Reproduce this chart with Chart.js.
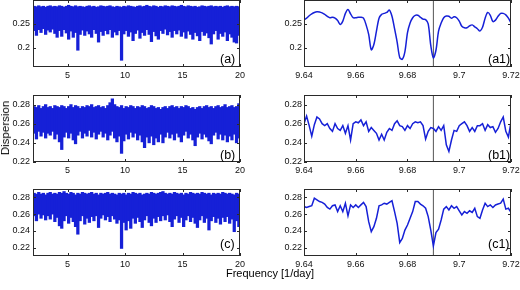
<!DOCTYPE html>
<html>
<head>
<meta charset="utf-8">
<script src="https://cdn.jsdelivr.net/npm/chart.js@4.4.0/dist/chart.umd.min.js"></script>
<style>
  body { margin: 0; width: 520px; height: 290px; overflow: hidden; background: #fff; position: relative;
         font-family: "Liberation Sans", Arial, sans-serif; }
  canvas { position: absolute; }
  .lbl { position: absolute; color: #000; white-space: nowrap; transform: translate(-50%, -50%); }
</style>
</head>
<body>
<canvas id="pa" width="250" height="97" style="left:0;top:-10px"></canvas>
<canvas id="pa1" width="270" height="97" style="left:262px;top:-10px"></canvas>
<canvas id="pb" width="250" height="97" style="left:0;top:85px"></canvas>
<canvas id="pb1" width="270" height="97" style="left:262px;top:85px"></canvas>
<canvas id="pc" width="250" height="97" style="left:0;top:179px"></canvas>
<canvas id="pc1" width="270" height="97" style="left:262px;top:179px"></canvas>
<div class="lbl" style="left:5px;top:128px;font-size:11.5px;transform:translate(-50%,-50%) rotate(-90deg)">Dispersion</div>
<div class="lbl" style="left:270px;top:273px;font-size:11px">Frequency [1/day]</div>
<script>
// whole range 2..20 1/day: lower and upper edge of the dense band
var wideFreq = [2.1,2.3,2.5,2.7,2.9,3.1,3.3,3.5,3.7,3.9,
  4.1,4.3,4.5,4.7,4.9,5.1,5.3,5.5,5.7,5.9,
  6.1,6.3,6.5,6.7,6.9,7.1,7.3,7.5,7.7,7.9,
  8.1,8.3,8.5,8.7,8.9,9.1,9.3,9.5,9.7,9.9,
  10.1,10.3,10.5,10.7,10.9,11.1,11.3,11.5,11.7,11.9,
  12.1,12.3,12.5,12.7,12.9,13.1,13.3,13.5,13.7,13.9,
  14.1,14.3,14.5,14.7,14.9,15.1,15.3,15.5,15.7,15.9,
  16.1,16.3,16.5,16.7,16.9,17.1,17.3,17.5,17.7,17.9,
  18.1,18.3,18.5,18.7,18.9,19.1,19.3,19.5,19.7,19.9];

var loA = [0.236,0.226,0.238,0.232,0.240,0.228,0.237,0.233,0.239,0.230,
  0.222,0.236,0.224,0.238,0.231,0.218,0.235,0.222,0.232,0.195,
  0.228,0.237,0.226,0.235,0.229,0.222,0.238,0.230,0.212,0.234,
  0.226,0.236,0.229,0.238,0.222,0.233,0.227,0.236,0.174,0.229,
  0.236,0.224,0.233,0.215,0.230,0.237,0.220,0.232,0.226,0.238,
  0.228,0.213,0.234,0.225,0.218,0.236,0.230,0.239,0.227,0.234,
  0.222,0.236,0.229,0.237,0.224,0.233,0.220,0.235,0.228,0.218,
  0.232,0.225,0.215,0.234,0.226,0.231,0.221,0.208,0.229,0.236,
  0.218,0.230,0.224,0.233,0.215,0.229,0.222,0.212,0.210,0.226];
var hiA = [0.287,0.286,0.288,0.286,0.287,0.285,0.287,0.288,0.286,0.287,
  0.286,0.288,0.287,0.285,0.287,0.289,0.287,0.286,0.288,0.286,
  0.287,0.286,0.285,0.287,0.288,0.286,0.287,0.285,0.286,0.288,
  0.287,0.286,0.287,0.288,0.286,0.285,0.287,0.286,0.285,0.287,
  0.286,0.288,0.287,0.286,0.285,0.287,0.288,0.286,0.287,0.289,
  0.287,0.286,0.288,0.287,0.285,0.287,0.286,0.288,0.287,0.286,
  0.288,0.287,0.286,0.287,0.289,0.287,0.286,0.288,0.287,0.286,
  0.287,0.285,0.286,0.288,0.287,0.286,0.287,0.288,0.286,0.287,
  0.286,0.287,0.285,0.287,0.288,0.286,0.287,0.286,0.287,0.286];

var loB = [0.250,0.244,0.252,0.247,0.251,0.245,0.250,0.248,0.252,0.244,
  0.249,0.241,0.233,0.246,0.251,0.245,0.250,0.243,0.239,0.248,
  0.252,0.245,0.250,0.247,0.253,0.246,0.251,0.244,0.249,0.252,
  0.246,0.250,0.243,0.248,0.252,0.245,0.241,0.247,0.229,0.242,
  0.249,0.244,0.251,0.246,0.250,0.243,0.248,0.241,0.235,0.246,
  0.240,0.247,0.238,0.245,0.241,0.249,0.240,0.246,0.251,0.245,
  0.249,0.243,0.250,0.246,0.241,0.248,0.252,0.245,0.249,0.243,
  0.237,0.246,0.250,0.244,0.249,0.246,0.242,0.239,0.248,0.251,
  0.244,0.249,0.243,0.248,0.241,0.247,0.243,0.249,0.240,0.245];
var hiB = [0.278,0.277,0.279,0.276,0.278,0.280,0.277,0.278,0.276,0.279,
  0.278,0.277,0.279,0.278,0.276,0.278,0.280,0.277,0.279,0.278,
  0.276,0.278,0.277,0.279,0.278,0.280,0.277,0.278,0.279,0.277,
  0.278,0.276,0.279,0.282,0.286,0.280,0.278,0.277,0.279,0.276,
  0.278,0.277,0.279,0.278,0.276,0.278,0.277,0.279,0.278,0.276,
  0.277,0.279,0.278,0.276,0.277,0.275,0.277,0.278,0.276,0.278,
  0.279,0.277,0.278,0.276,0.278,0.277,0.279,0.278,0.276,0.277,
  0.275,0.277,0.278,0.276,0.278,0.279,0.277,0.278,0.276,0.278,
  0.279,0.277,0.278,0.280,0.277,0.278,0.279,0.277,0.278,0.281];

var loC = [0.258,0.252,0.260,0.255,0.259,0.253,0.258,0.254,0.260,0.251,
  0.256,0.246,0.243,0.252,0.258,0.249,0.256,0.251,0.245,0.236,
  0.252,0.258,0.248,0.255,0.250,0.257,0.252,0.258,0.244,0.255,
  0.259,0.253,0.257,0.251,0.258,0.254,0.249,0.253,0.219,0.250,
  0.241,0.252,0.243,0.255,0.249,0.256,0.251,0.244,0.253,0.258,
  0.250,0.246,0.255,0.250,0.257,0.252,0.258,0.253,0.259,0.251,
  0.245,0.254,0.258,0.250,0.256,0.245,0.253,0.258,0.251,0.256,
  0.249,0.244,0.253,0.258,0.250,0.255,0.241,0.252,0.257,0.250,
  0.255,0.248,0.256,0.251,0.257,0.249,0.254,0.239,0.252,0.245];
var hiC = [0.285,0.284,0.286,0.284,0.285,0.283,0.285,0.286,0.284,0.285,
  0.284,0.286,0.285,0.287,0.285,0.284,0.286,0.285,0.283,0.285,
  0.284,0.286,0.285,0.284,0.285,0.286,0.284,0.285,0.283,0.285,
  0.284,0.285,0.286,0.284,0.285,0.284,0.283,0.285,0.284,0.285,
  0.283,0.285,0.284,0.286,0.285,0.284,0.285,0.283,0.284,0.285,
  0.284,0.286,0.285,0.284,0.285,0.286,0.287,0.285,0.284,0.285,
  0.284,0.286,0.285,0.284,0.285,0.283,0.285,0.284,0.286,0.285,
  0.284,0.285,0.284,0.286,0.285,0.284,0.285,0.283,0.285,0.284,
  0.285,0.284,0.286,0.285,0.284,0.285,0.284,0.283,0.285,0.284];

// zoom 9.64..9.72 1/day
var zoomFreq = [9.640,9.641,9.642,9.643,9.644,9.645,9.646,9.647,9.648,9.649,
  9.650,9.651,9.652,9.653,9.654,9.655,9.656,9.657,9.658,9.659,
  9.660,9.661,9.662,9.663,9.664,9.665,9.666,9.667,9.668,9.669,
  9.670,9.671,9.672,9.673,9.674,9.675,9.676,9.677,9.678,9.679,
  9.680,9.681,9.682,9.683,9.684,9.685,9.686,9.687,9.688,9.689,
  9.690,9.691,9.692,9.693,9.694,9.695,9.696,9.697,9.698,9.699,
  9.700,9.701,9.702,9.703,9.704,9.705,9.706,9.707,9.708,9.709,
  9.710,9.711,9.712,9.713,9.714,9.715,9.716,9.717,9.718,9.719,
  9.720];
var zoomA = [0.258,0.262,0.267,0.271,0.274,0.2755,0.275,0.273,0.270,0.266,
  0.263,0.264,0.262,0.257,0.249,0.256,0.272,0.280,0.271,0.263,
  0.263,0.264,0.264,0.262,0.248,0.228,0.196,0.207,0.235,0.262,
  0.270,0.272,0.274,0.279,0.266,0.240,0.212,0.180,0.176,0.192,
  0.232,0.252,0.263,0.268,0.268,0.264,0.260,0.259,0.250,0.205,
  0.179,0.195,0.235,0.252,0.263,0.2665,0.266,0.262,0.265,0.263,
  0.256,0.245,0.242,0.242,0.246,0.248,0.244,0.240,0.235,0.243,
  0.262,0.274,0.268,0.255,0.258,0.266,0.272,0.272,0.269,0.262,
  0.252];
var zoomB = [0.260,0.268,0.258,0.247,0.259,0.267,0.265,0.260,0.258,0.260,
  0.255,0.252,0.260,0.255,0.253,0.258,0.250,0.258,0.243,0.260,
  0.262,0.261,0.264,0.258,0.262,0.252,0.256,0.253,0.250,0.243,
  0.249,0.243,0.251,0.255,0.253,0.260,0.263,0.258,0.257,0.253,
  0.258,0.255,0.260,0.262,0.261,0.262,0.258,0.244,0.252,0.256,
  0.255,0.252,0.257,0.253,0.258,0.238,0.231,0.243,0.253,0.252,
  0.258,0.260,0.262,0.258,0.252,0.256,0.252,0.258,0.258,0.260,
  0.253,0.259,0.256,0.257,0.251,0.255,0.262,0.267,0.252,0.246,
  0.262];
var zoomC = [0.269,0.268,0.269,0.270,0.279,0.277,0.275,0.274,0.272,0.268,
  0.266,0.270,0.271,0.263,0.270,0.263,0.273,0.258,0.271,0.268,
  0.271,0.268,0.271,0.274,0.269,0.251,0.239,0.245,0.255,0.270,
  0.271,0.273,0.272,0.274,0.276,0.263,0.249,0.226,0.231,0.241,
  0.247,0.255,0.263,0.275,0.275,0.272,0.270,0.267,0.257,0.241,
  0.222,0.238,0.242,0.253,0.266,0.269,0.265,0.270,0.267,0.269,
  0.264,0.259,0.263,0.261,0.264,0.262,0.267,0.257,0.255,0.265,
  0.273,0.269,0.271,0.268,0.271,0.272,0.273,0.278,0.266,0.267,
  0.262];

var markFreq = 9.69;
var wideTicks = [5, 10, 15, 20];
var zoomTicks = [9.64, 9.66, 9.68, 9.70, 9.72];
var yTicksA = [0.2, 0.25];
var yTicksBC = [0.22, 0.24, 0.26, 0.28];

var BLUE = 'rgb(22,32,215)';
Chart.defaults.font.family = '"Liberation Sans", Arial, sans-serif';

function fmt(v) { return String(Number((+v).toFixed(2))); }

// box with inward ticks on all four sides plus the (a)..(c1) tag
var frame = {
  id: 'frame',
  afterDatasetsDraw: function(chart, args, opts) {
    var a = chart.chartArea, ctx = chart.ctx;
    var xs = chart.scales.x, ys = chart.scales.y;
    ctx.save();
    ctx.strokeStyle = '#2a2a2a';
    ctx.lineWidth = 1;
    ctx.beginPath();
    xs.ticks.forEach(function(t) {
      var p = Math.round(xs.getPixelForValue(t.value)) + 0.5;
      ctx.moveTo(p, a.bottom); ctx.lineTo(p, a.bottom - 3);
      ctx.moveTo(p, a.top); ctx.lineTo(p, a.top + 3);
    });
    ys.ticks.forEach(function(t) {
      var p = Math.round(ys.getPixelForValue(t.value)) + 0.5;
      ctx.moveTo(a.left, p); ctx.lineTo(a.left + 3, p);
      ctx.moveTo(a.right, p); ctx.lineTo(a.right - 3, p);
    });
    ctx.stroke();
    ctx.strokeRect(a.left + 0.5, a.top + 0.5, a.right - a.left - 1, a.bottom - a.top - 1);
    ctx.fillStyle = '#000';
    ctx.font = '12.5px "Liberation Sans", Arial, sans-serif';
    ctx.textAlign = 'left';
    ctx.textBaseline = 'middle';
    ctx.fillText(opts.text, a.left + opts.dx, a.bottom - opts.dy);
    ctx.restore();
  }
};

function scalesFor(xMin, xMax, xTicks, yMin, yMax, yTicks, yWidth, yPad) {
  return {
    x: {
      type: 'linear', min: xMin, max: xMax, offset: false,
      grid: { display: false, drawTicks: false }, border: { display: false },
      afterBuildTicks: function(s) { s.ticks = xTicks.map(function(v) { return { value: v }; }); },
      afterFit: function(s) { s.height = 20; },
      ticks: { padding: 3, color: '#111', font: { size: 9 }, maxRotation: 0, autoSkip: false, callback: fmt }
    },
    y: {
      type: 'linear', min: yMin, max: yMax,
      grid: { display: false, drawTicks: false }, border: { display: false },
      afterBuildTicks: function(s) { s.ticks = yTicks.map(function(v) { return { value: v }; }); },
      afterFit: function(s) { s.width = yWidth; },
      ticks: { padding: yPad, color: '#111', font: { size: 9 }, autoSkip: false, callback: fmt }
    }
  };
}

function widePanel(id, lo, hi, yMin, yMax, yTicks, tag, tagDy) {
  new Chart(document.getElementById(id), {
    type: 'bar',
    data: {
      datasets: [{
        data: wideFreq.map(function(f, i) { return { x: f, y: [lo[i], hi[i]] }; }),
        backgroundColor: BLUE,
        borderWidth: 0,
        barThickness: 2.6
      }]
    },
    options: {
      responsive: false, animation: false,
      layout: { autoPadding: false, padding: { left: 0, right: 10, top: 10, bottom: 0 } },
      scales: scalesFor(2, 20, wideTicks, yMin, yMax, yTicks, 33, 3),
      plugins: { legend: { display: false }, tooltip: { enabled: false },
                 frame: { text: tag, dx: 187, dy: tagDy } }
    },
    plugins: [frame]
  });
}

function zoomPanel(id, vals, yMin, yMax, yTicks, tag, tagDy, tension) {
  new Chart(document.getElementById(id), {
    type: 'line',
    data: {
      datasets: [{
        data: zoomFreq.map(function(f, i) { return { x: f, y: vals[i] }; }),
        borderColor: BLUE, borderWidth: 1.5, pointRadius: 0, tension: tension
      }, {
        data: [{ x: markFreq, y: yMin }, { x: markFreq, y: yMax }],
        borderColor: '#555', borderWidth: 1, pointRadius: 0
      }]
    },
    options: {
      responsive: false, animation: false,
      layout: { autoPadding: false, padding: { left: 0, right: 21, top: 10, bottom: 0 } },
      scales: scalesFor(9.64, 9.72, zoomTicks, yMin, yMax, yTicks, 42, 2),
      plugins: { legend: { display: false }, tooltip: { enabled: false },
                 frame: { text: tag, dx: 184, dy: tagDy } }
    },
    plugins: [frame]
  });
}

widePanel('pa', loA, hiA, 0.16, 0.30, yTicksA, '(a)', 7);
widePanel('pb', loB, hiB, 0.22, 0.29, yTicksBC, '(b)', 6);
widePanel('pc', loC, hiC, 0.21, 0.29, yTicksBC, '(c)', 11);
zoomPanel('pa1', zoomA, 0.16, 0.30, yTicksA, '(a1)', 7, 0.3);
zoomPanel('pb1', zoomB, 0.22, 0.29, yTicksBC, '(b1)', 6, 0);
zoomPanel('pc1', zoomC, 0.21, 0.29, yTicksBC, '(c1)', 11, 0);
</script>
</body>
</html>
